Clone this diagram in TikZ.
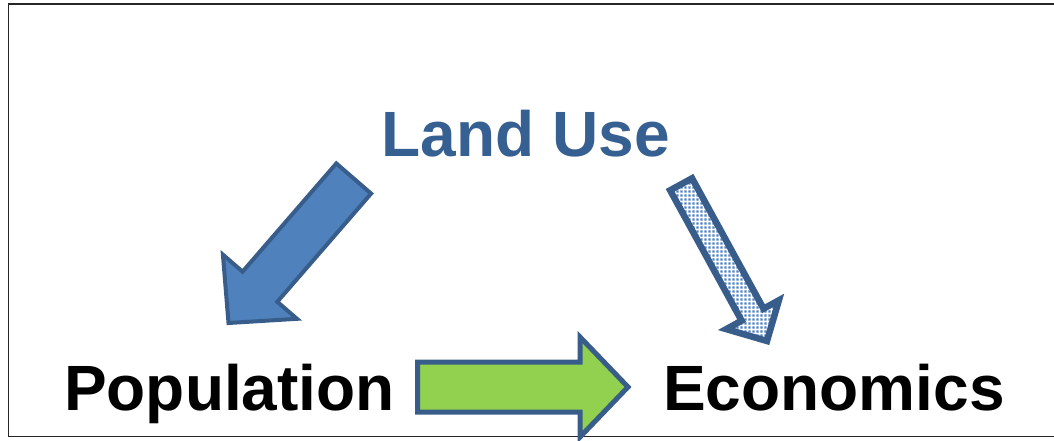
\documentclass[tikz,border=0pt]{standalone}
\usepackage{fontspec}
\setmainfont{Liberation Sans}
\usetikzlibrary{calc,patterns.meta}
\definecolor{outl}{HTML}{385D8A}
\definecolor{bluefill}{HTML}{4F81BD}
\definecolor{greenfill}{HTML}{92D050}
\definecolor{titleblue}{HTML}{376092}
\tikzdeclarepattern{
  name=odots,
  type=uncolored,
  bounding box={(0pt,0pt) and (4pt,4pt)},
  tile size={(4pt,4pt)},
  code={\fill (0.6pt,0.6pt) rectangle (3.2pt,3.2pt);}
}
% #1 style, #2 tail centre, #3 tip, #4 shaft half width, #5 head half width, #6 head length (all in pt)
\newcommand{\blockarrow}[6]{%
  \coordinate (ba-h) at ($(#3)!#6pt!(#2)$);
  \path[#1] ($(#2)!#4pt!90:(#3)$) -- ($(ba-h)!#4pt!90:(#3)$) -- ($(ba-h)!#5pt!90:(#3)$)
    -- (#3) -- ($(ba-h)!#5pt!-90:(#3)$) -- ($(ba-h)!#4pt!-90:(#3)$) -- ($(#2)!#4pt!-90:(#3)$) -- cycle;
}
\begin{document}
\begin{tikzpicture}[x=1pt,y=-1pt,
  bigtext/.style={font=\fontsize{64}{70}\selectfont\bfseries, inner sep=0pt, anchor=base west},
  solidarrow/.style={draw=outl, fill=#1, line width=4pt, line join=miter},
  dotarrow/.style={draw=outl, line width=6.5pt, line join=miter,
    preaction={fill=white}, pattern=odots, pattern color=bluefill}]
\useasboundingbox (0,0) rectangle (1054,441);
% frame
\draw[line width=1.6pt, black!85] (1060,4) -- (8.5,4) -- (8.5,436.5) -- (1060,436.5);
% labels
\node[bigtext, text=titleblue] (lu) at (381.5,156) {Land Use};
\node[bigtext] (pop) at (64,410) {Population};
\node[bigtext] (eco) at (663,410) {Economics};
% arrow end points
\coordinate (a1t) at (353.7,178.5);
\coordinate (a1h) at (228.5,323);
\coordinate (a2t) at (417.5,387);
\coordinate (a2h) at (628,387);
\coordinate (a3t) at (681.1,184.3);
\coordinate (a3h) at (767,341);
% arrows
\blockarrow{solidarrow=bluefill}{a1t}{a1h}{23}{49}{48}
\blockarrow{solidarrow=greenfill, line width=5pt}{a2t}{a2h}{25}{50}{48}
\blockarrow{dotarrow}{a3t}{a3h}{12.5}{30}{30}
\end{tikzpicture}
\end{document}
